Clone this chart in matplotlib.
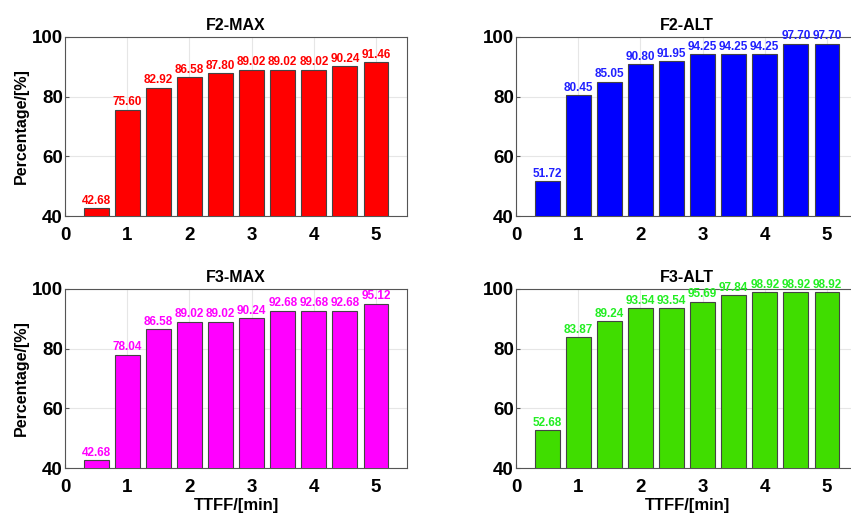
import matplotlib.pyplot as plt
import numpy as np

plt.rcParams['font.family'] = ['Liberation Sans', 'DejaVu Sans']
plt.rcParams['font.weight'] = 'bold'

ttff = [0.5, 1.0, 1.5, 2.0, 2.5, 3.0, 3.5, 4.0, 4.5, 5.0]
f2_max = [42.68, 75.60, 82.92, 86.58, 87.80, 89.02, 89.02, 89.02, 90.24, 91.46]
f2_alt = [51.72, 80.45, 85.05, 90.80, 91.95, 94.25, 94.25, 94.25, 97.70, 97.70]
f3_max = [42.68, 78.04, 86.58, 89.02, 89.02, 90.24, 92.68, 92.68, 92.68, 95.12]
f3_alt = [52.68, 83.87, 89.24, 93.54, 93.54, 95.69, 97.84, 98.92, 98.92, 98.92]

paneles = [
    ('F2-MAX', f2_max, '#ff0000', '#ff0000', [0.0764, 0.583, 0.402, 0.3456]),
    ('F2-ALT', f2_alt, '#0000ff', '#2020ff', [0.6063, 0.583, 0.402, 0.3456]),
    ('F3-MAX', f3_max, '#ff00ff', '#ff00ff', [0.0764, 0.0965, 0.402, 0.3456]),
    ('F3-ALT', f3_alt, '#40dd00', '#22ee22', [0.6063, 0.0965, 0.402, 0.3456]),
]

fig = plt.figure(figsize=(8.51, 5.18), dpi=100)

for i, (titulo, valores, color, color_txt, pos) in enumerate(paneles):
    ax = fig.add_axes(pos)
    ax.bar(ttff, valores, width=0.4, color=color, edgecolor='#444444', linewidth=0.8, zorder=3)
    for x, v in zip(ttff, valores):
        ax.text(x, v + 0.5, f'{v:.2f}', ha='center', va='bottom', fontsize=8.5,
                fontweight='bold', color=color_txt, zorder=4)
    ax.set_xlim(0, 5.5)
    ax.set_ylim(40, 100)
    ax.set_xticks([0, 1, 2, 3, 4, 5])
    ax.set_yticks([40, 60, 80, 100])
    ax.tick_params(labelsize=13.5, direction='in', length=3, color='#555555')
    ax.tick_params(axis='x', pad=8)
    ax.tick_params(axis='y', pad=1.5)
    ax.grid(True, color='#e6e6e6', linewidth=0.8, zorder=0)
    for s in ax.spines.values():
        s.set_color('#555555')
        s.set_linewidth(0.8)
    ax.set_title(titulo, fontsize=11.5, fontweight='bold', pad=5)
    if i % 2 == 0:
        ax.set_ylabel('Percentage/[%]', fontsize=11.5, fontweight='bold', labelpad=2)
    if i >= 2:
        ax.set_xlabel('TTFF/[min]', fontsize=12, fontweight='bold', labelpad=1)

fig.savefig('out.png', dpi=100)
